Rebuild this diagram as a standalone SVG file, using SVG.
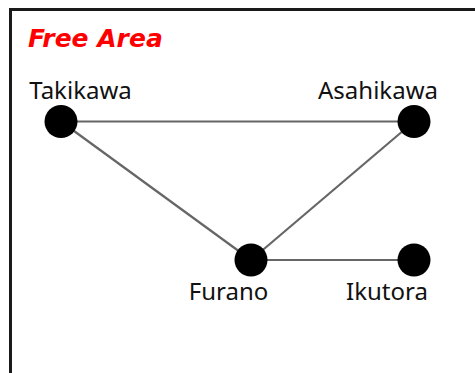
<svg xmlns="http://www.w3.org/2000/svg" width="475" height="373" viewBox="0 0 475 373">
<style>
.lbl{font-family:"Noto Sans","DejaVu Sans",sans-serif;font-size:24px;fill:#111}
.title{font-family:"DejaVu Sans",sans-serif;font-size:25px;font-weight:bold;font-style:italic;fill:#ff0000}
.edge{stroke:#666;stroke-width:2.2;fill:none}
.dot{fill:#000}
</style>
<rect width="475" height="373" fill="#fff"/>
<path d="M10.5,373 V9.5 H475" fill="none" stroke="#1a1a1a" stroke-width="3"/>
<text class="title" x="28" y="47">Free Area</text>
<g id="connectors">
<line class="edge" x1="61" y1="121.5" x2="414" y2="121.5" stroke="#555"/>
<line class="edge" x1="61" y1="121.5" x2="251" y2="260"/>
<line class="edge" x1="414" y1="121.5" x2="251" y2="260"/>
<line class="edge" x1="251" y1="260" x2="414" y2="260"/>
</g>
<g id="takikawa"><circle class="dot" cx="61" cy="121.5" r="16.5"/><text class="lbl" x="80.5" y="99" text-anchor="middle">Takikawa</text></g>
<g id="asahikawa"><circle class="dot" cx="414" cy="121.5" r="16.5"/><text class="lbl" x="378" y="99" text-anchor="middle">Asahikawa</text></g>
<g id="furano"><circle class="dot" cx="251" cy="260" r="16.5"/><text class="lbl" x="228.5" y="300" text-anchor="middle">Furano</text></g>
<g id="ikutora"><circle class="dot" cx="414" cy="260" r="16.5"/><text class="lbl" x="387" y="300" text-anchor="middle">Ikutora</text></g>
</svg>
